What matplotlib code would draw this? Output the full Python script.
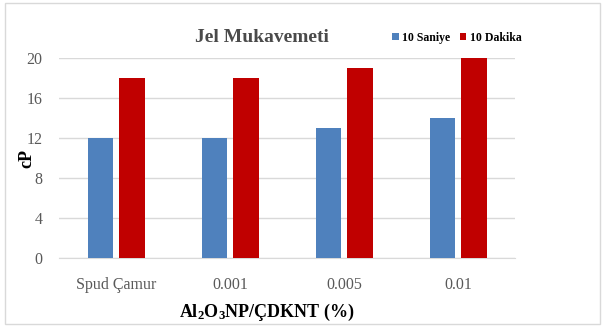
import numpy as np
import matplotlib.pyplot as plt
from matplotlib.patches import Rectangle

categories = ["Spud Çamur", "0.001", "0.005", "0.01"]
saniye_10 = [12, 12, 13, 14]
dakika_10 = [18, 18, 19, 20]
yticks = [0, 4, 8, 12, 16, 20]

plt.rcParams['font.family'] = ['Liberation Serif', 'DejaVu Serif']
plt.rcParams['mathtext.fontset'] = 'custom'
plt.rcParams['mathtext.rm'] = 'Liberation Serif'
plt.rcParams['mathtext.bf'] = 'Liberation Serif:bold'
plt.rcParams['mathtext.default'] = 'bf'
gray = '#595959'

fig = plt.figure(figsize=(6.03, 3.27), dpi=100)
ax = fig.add_axes([59 / 603, 1 - 258 / 327, (515 - 59) / 603, 200 / 327])

x = np.arange(len(categories))
w = 0.22
ax.bar(x - 0.14, saniye_10, w, color='#4f81bd', label='10 Saniye', zorder=3)
ax.bar(x + 0.14, dakika_10, w, color='#c00000', label='10 Dakika', zorder=3)

ax.set_xlim(-0.5, len(categories) - 0.5)
ax.set_ylim(0, 20)
ax.set_yticks(yticks)
ax.set_xticks(x)
ax.set_xticklabels(categories)
ax.tick_params(axis='both', length=0, colors=gray, labelsize=11.5)
ax.tick_params(axis='x', pad=14)
ax.tick_params(axis='y', pad=12)
ax.yaxis.grid(True, color='#d9d9d9', linewidth=1, zorder=0)
for s in ['left', 'right', 'top']:
    ax.spines[s].set_visible(False)
ax.spines['bottom'].set_color('#d9d9d9')

ax.set_ylabel('cP', fontsize=13, fontweight='bold')
ax.yaxis.set_label_coords(-(59 - 35) / 456, 0.5)
ax.set_xlabel(r'Al$_2$O$_3$NP/ÇDKNT (%)', fontsize=13, fontweight='bold')
ax.xaxis.set_label_coords((267 - 59) / 456, -(302 - 258) / 200)

fig.text(262 / 603, 1 - 38 / 327, 'Jel Mukavemeti', ha='center', va='center',
         fontsize=14, fontweight='bold', color='#4a4a4a')
ax.legend(loc='center', bbox_to_anchor=(457 / 603, 1 - 38 / 327),
          bbox_transform=fig.transFigure, ncol=2, frameon=False,
          handlelength=0.55, handleheight=0.55, columnspacing=0.8,
          handletextpad=0.3, prop={'weight': 'bold', 'size': 8.5})

fig.patches.append(Rectangle((5 / 603, 3 / 327), 595 / 603, 321 / 327,
                             transform=fig.transFigure, fill=False,
                             edgecolor='#d9d9d9', linewidth=1))

fig.savefig('out.png', dpi=100)
